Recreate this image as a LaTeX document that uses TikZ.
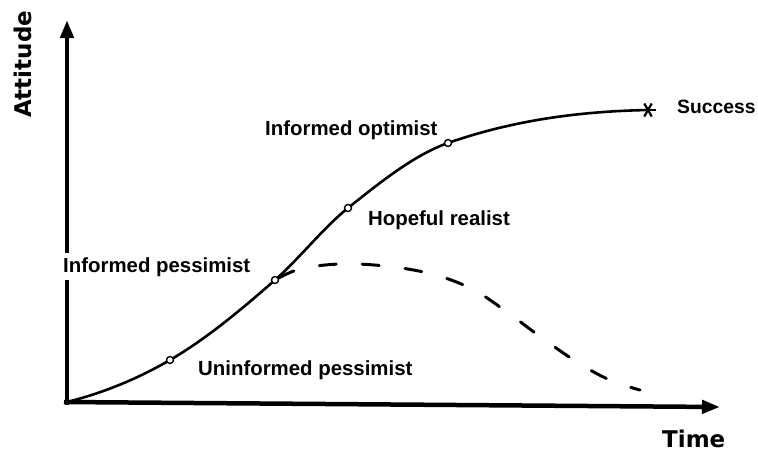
\documentclass[tikz,border=0pt]{standalone}
\usepackage{fontspec}
\setmainfont{Liberation Sans}
\newfontfamily\axisfont{DejaVu Sans}
\usetikzlibrary{arrows.meta}
\tikzset{
  axis/.style={line width=4.5pt, -{Triangle[length=18pt,width=13pt]}},
  curve/.style={line width=2.6pt, line cap=round, line join=round},
  dashcurve/.style={line width=3pt, line cap=round, dash pattern=on 17pt off 26pt},
  lbl/.style={anchor=base west, inner sep=0pt, font=\fontsize{20.4}{24}\selectfont\bfseries},
  axlbl/.style={anchor=base west, inner sep=0pt, font=\axisfont\fontsize{23}{26}\selectfont\bfseries},
  dot/.style={circle, draw, fill=white, line width=1.4pt, minimum size=7pt, inner sep=0pt},
}
\begin{document}
\begin{tikzpicture}[x=1pt,y=-1pt]
\useasboundingbox (0,0) rectangle (758,451);
% axes
\coordinate (O) at (67,402);
\coordinate (ytip) at (67,20);
\coordinate (xtip) at (720,407);
\draw[axis] (67,405) -- (ytip);
\draw[axis] (64,402) -- (xtip);
% key points
\coordinate (p1) at (170,360);
\coordinate (p2) at (275,280);
\coordinate (p3) at (348,208);
\coordinate (p4) at (448,143);
\coordinate (s) at (648,110);
% main curve
\draw[curve] (O) .. controls (101.3,393.4) and (135.7,379.9) .. (p1)
  .. controls (205,339.7) and (240,310.8) .. (p2)
  .. controls (299.3,258.6) and (323.7,227.4) .. (p3)
  .. controls (381.3,181.4) and (414.7,154.7) .. (p4)
  .. controls (514.7,119.7) and (581.3,111.3) .. (s);
% dashed curve
\coordinate (d1) at (300,269);
\coordinate (d2) at (340,264);
\coordinate (d3) at (385,266);
\coordinate (d4) at (432,274);
\coordinate (d5) at (472,289);
\coordinate (d6) at (507,312);
\coordinate (d7) at (542,338);
\coordinate (d8) at (580,364);
\coordinate (d9) at (612,381);
\coordinate (d10) at (640,390);
\draw[dashcurve, dash phase=-4pt] plot[smooth, tension=0.6] coordinates {(p2) (d1) (d2) (d3) (d4) (d5) (d6) (d7) (d8) (d9) (d10)};
% markers
\node[dot] (m1) at (p1) {};
\node[dot] (m2) at (p2) {};
\node[dot] (m3) at (p3) {};
\node[dot] (m4) at (p4) {};
\foreach \a in {0,60,120} {
  \draw[line width=2.2pt] (s) ++(\a:7.5) -- ++(\a+180:15);
}
% labels
\node[lbl] (lio) at (265,135) {Informed optimist};
\node[lbl] (lhr) at (368,225) {Hopeful realist};
\node[lbl, fill=white, inner ysep=4pt] (lip) at (63,272) {Informed pessimist};
\node[lbl] (lup) at (198,375) {Uninformed pessimist};
\node[lbl, font=\fontsize{19.3}{22}\selectfont\bfseries] (lsu) at (677,113) {Success};
\node[axlbl] (ltime) at (662,447) {Time};
\node[axlbl, rotate=90] (latt) at (31,118) {Attitude};
\end{tikzpicture}
\end{document}
